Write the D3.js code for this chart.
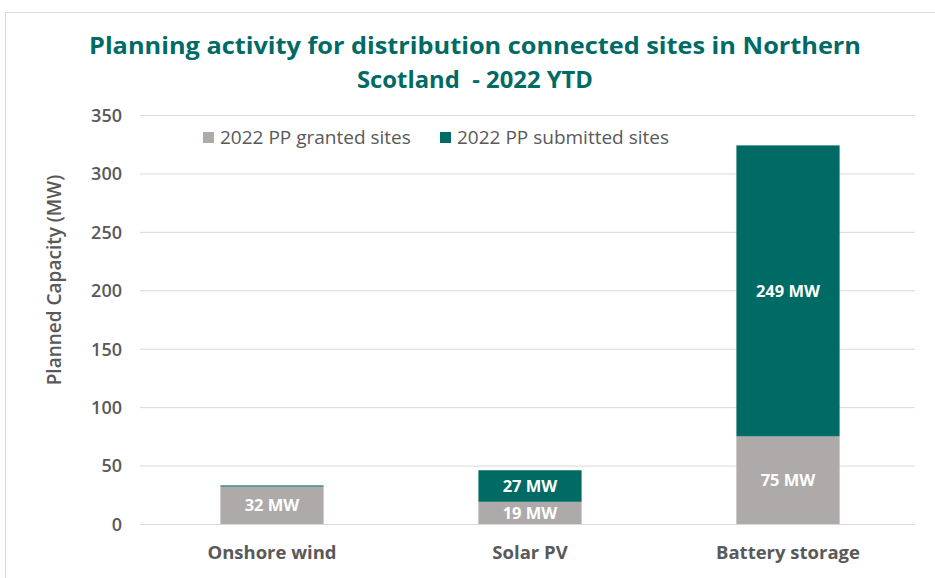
<!DOCTYPE html>
<html><head><meta charset="utf-8">
<script src="https://cdn.jsdelivr.net/npm/d3@7"></script>
<style>body{margin:0;background:#fff}svg{display:block}text{font-family:"Open Sans","Liberation Sans",sans-serif;white-space:pre}</style>
</head><body>
<svg id="c" width="935" height="578"></svg>
<script>
const categories = ["Onshore wind", "Solar PV", "Battery storage"];
const seriesNames = ["2022 PP granted sites", "2022 PP submitted sites"];
const granted = [32, 19, 75];
const submitted = [1, 27, 249];
const grantedLabels = ["32 MW", "19 MW", "75 MW"];
const submittedLabels = ["", "27 MW", "249 MW"];
const yTicks = [0, 50, 100, 150, 200, 250, 300, 350];
const titleLines = ["Planning activity for distribution connected sites in Northern", "Scotland  - 2022 YTD"];
const yTitle = "Planned Capacity (MW)";

const colors = ["#ADAAA9", "#006A65"];
const svg = d3.select("#c");

// frame
svg.append("rect").attr("x", 5.5).attr("y", 12.5).attr("width", 1000).attr("height", 1000)
  .attr("fill", "none").attr("stroke", "#d9d9d9");

const x = d3.scaleBand().domain(categories).range([143, 917]).paddingInner(0.6).paddingOuter(0.3);
const y = d3.scaleLinear().domain([0, 350]).range([524, 115]);

// gridlines
svg.append("g").selectAll("line").data(yTicks).join("line")
  .attr("x1", 140).attr("x2", 915).attr("y1", d => y(d) + 0.5).attr("y2", d => y(d) + 0.5)
  .attr("stroke", "#d9d9d9").attr("stroke-width", 1);

// y axis labels
const yAxis = d3.axisLeft(y).tickValues(yTicks).tickSize(0).tickPadding(0);
const ga = svg.append("g").attr("transform", "translate(122,0)").call(yAxis);
ga.select(".domain").remove();
ga.selectAll("text").attr("font-size", 18).attr("font-weight", 600).attr("fill", "#595959").attr("dy", "0.35em");

// x axis labels
const xAxis = d3.axisBottom(x).tickSize(0).tickPadding(0);
const gx = svg.append("g").attr("transform", "translate(0,559)").call(xAxis);
gx.select(".domain").remove();
gx.selectAll("text").attr("font-size", 18.5).attr("font-weight", 700).attr("fill", "#595959").attr("dy", "0");

// bars
const stacked = categories.map((c, i) => ({ c, g: granted[i], s: submitted[i], gl: grantedLabels[i], sl: submittedLabels[i] }));
const bars = svg.append("g");
bars.selectAll(".g").data(stacked).join("rect")
  .attr("x", d => x(d.c)).attr("width", x.bandwidth())
  .attr("y", d => y(d.g)).attr("height", d => y(0) - y(d.g)).attr("fill", colors[0]);
bars.selectAll(".s").data(stacked).join("rect")
  .attr("x", d => x(d.c)).attr("width", x.bandwidth())
  .attr("y", d => y(d.g + d.s)).attr("height", d => y(d.g) - y(d.g + d.s)).attr("fill", colors[1]);

// labels
svg.append("g").selectAll("text").data(stacked).join("text")
  .attr("x", d => x(d.c) + x.bandwidth() / 2).attr("y", d => y(d.g / 2))
  .attr("dy", "0.35em").attr("text-anchor", "middle").attr("fill", "#fff")
  .attr("font-size", 16.5).attr("font-weight", 700).text(d => d.gl);
svg.append("g").selectAll("text").data(stacked.filter(d => d.sl)).join("text")
  .attr("x", d => x(d.c) + x.bandwidth() / 2).attr("y", d => y(d.g + d.s / 2))
  .attr("dy", "0.35em").attr("text-anchor", "middle").attr("fill", "#fff")
  .attr("font-size", 16.5).attr("font-weight", 700).text(d => d.sl);

// title
svg.append("g").selectAll("text").data(titleLines).join("text")
  .attr("x", 475).attr("y", (d, i) => 54 + i * 34).attr("text-anchor", "middle")
  .attr("fill", "#006A65").attr("font-size", 23).attr("font-weight", 700)
  .attr("textLength", (d, i) => i === 0 ? 772 : 236).attr("lengthAdjust", "spacingAndGlyphs")
  .text(d => d);

// y title
svg.append("text").attr("transform", "translate(61,280) rotate(-90)")
  .attr("text-anchor", "middle").attr("fill", "#595959").attr("font-size", 19).attr("font-weight", 600)
  .text(yTitle);

// legend
const legX = [203, 440];
const lg = svg.append("g").selectAll("g").data(seriesNames).join("g")
  .attr("transform", (d, i) => `translate(${legX[i]},132)`);
lg.append("rect").attr("width", 11).attr("height", 11).attr("fill", (d, i) => colors[i]);
lg.append("text").attr("x", 17).attr("y", 5.5).attr("dy", "0.35em").attr("font-size", 19)
  .attr("fill", "#595959").text(d => d);
</script>
</body></html>
